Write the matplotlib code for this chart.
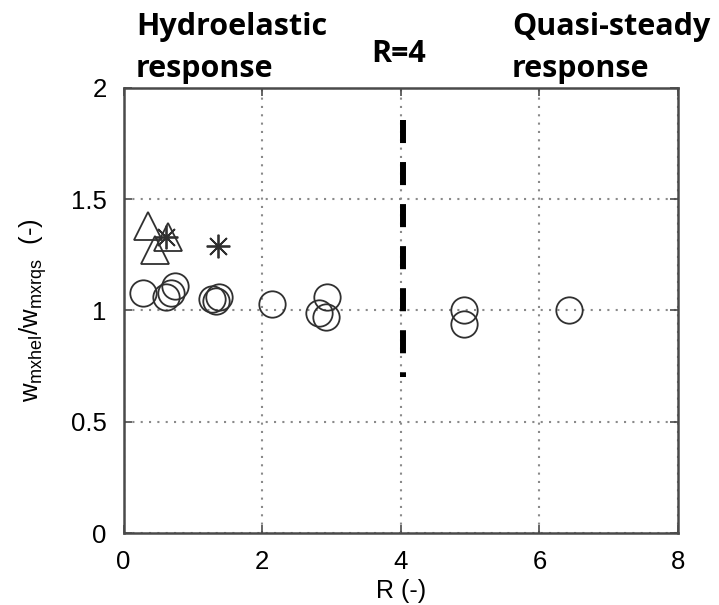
import matplotlib.pyplot as plt

plt.rcParams['font.family'] = ['Liberation Sans', 'DejaVu Sans']
plt.rcParams['mathtext.default'] = 'regular'

# measured points: hydroelastic / quasi-steady max deflection ratio vs R
circle_r = [0.28, 0.62, 0.69, 0.74, 1.27, 1.33, 1.38, 2.14, 2.82, 2.92, 2.93, 4.91, 4.91, 6.42]
circle_w = [1.08, 1.06, 1.08, 1.11, 1.05, 1.04, 1.06, 1.03, 0.99, 0.97, 1.06, 1.00, 0.94, 1.00]
tri_r = [0.36, 0.45, 0.64]
tri_w = [1.38, 1.27, 1.33]
star_r = [0.61, 1.37]
star_w = [1.33, 1.29]

# R = 4 boundary
bound_r = [4.03, 4.03]
bound_w = [1.855, 0.70]

xticks = [0, 2, 4, 6, 8]
yticks = [0, 0.5, 1, 1.5, 2]
yticklabels = ['0', '0.5', '1', '1.5', '2']

fig = plt.figure(figsize=(7.19, 6.05), dpi=100)
ax = fig.add_axes([0.1718, 0.119, 0.7712, 0.736])

mc = '#303030'
ax.plot(circle_r, circle_w, linestyle='none', marker='o', markersize=19,
        markerfacecolor='none', markeredgecolor=mc, markeredgewidth=1.3)
ax.plot(tri_r, tri_w, linestyle='none', marker='^', markersize=20,
        markerfacecolor='none', markeredgecolor=mc, markeredgewidth=1.3)
ax.plot(star_r, star_w, linestyle='none', marker=(8, 2, 0), markersize=17,
        markerfacecolor='none', markeredgecolor=mc, markeredgewidth=1.3)

ax.plot(bound_r, bound_w, color='black', linewidth=4.3,
        linestyle=(0, (3.86, 3.18)), solid_capstyle='butt', dash_capstyle='butt')

ax.set_xlim(0, 8)
ax.set_ylim(0, 2)
ax.set_xticks(xticks)
ax.set_yticks(yticks)
ax.set_yticklabels(yticklabels)
ax.grid(True, linestyle=(0, (1, 3)), color='#8a8a8a', linewidth=1.5)
ax.tick_params(direction='in', length=6, width=1.2, color='#4a4a4a',
               labelsize=18.5, top=True, right=True, pad=12)
for s in ax.spines.values():
    s.set_color('#4a4a4a')
    s.set_linewidth(1.8)

ax.set_xlabel('R (-)', fontsize=18, labelpad=4)
ax.set_ylabel(r'$w_{mxhel}/w_{mxrqs}$  (-)', fontsize=18.5)
ax.yaxis.set_label_coords(-0.134, 0.5)

bold = dict(family=['Open Sans', 'DejaVu Sans'], fontweight='bold', fontsize=22,
            va='baseline', ha='left')
fig.text(0.189, 0.942, 'Hydroelastic', **bold)
fig.text(0.189, 0.873, 'response', **bold)
fig.text(0.517, 0.8975, 'R=4', **bold)
fig.text(0.712, 0.942, 'Quasi-steady', **bold)
fig.text(0.712, 0.873, 'response', **bold)

fig.savefig('out.png', dpi=100)
